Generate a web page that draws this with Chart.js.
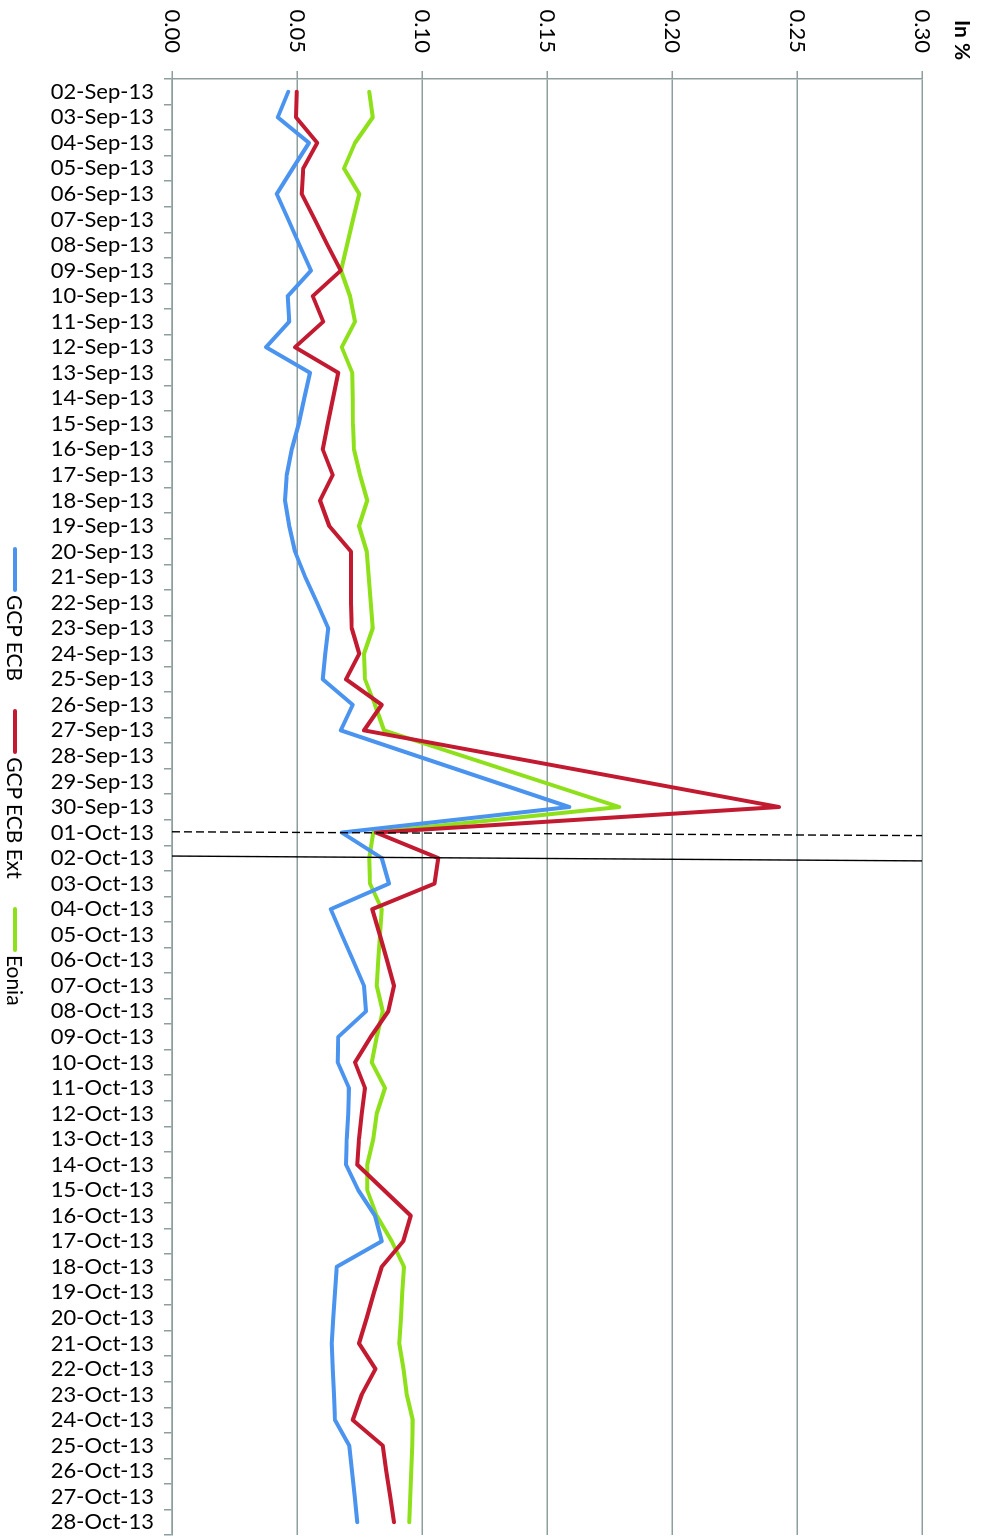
<!DOCTYPE html>
<html>
<head>
<meta charset="utf-8">
<script src="https://cdn.jsdelivr.net/npm/chart.js@4.4.1/dist/chart.umd.min.js"></script>
<style>
  html, body { margin: 0; padding: 0; background: #fff; overflow: hidden; }
  /* the chart is drawn landscape and turned a quarter clockwise */
  #wrap { position: absolute; left: 0; top: 0; width: 1537px; height: 981px;
          transform-origin: 0 0; transform: translate(981px, 0) rotate(90deg); }
  #chart { position: absolute; left: 0; top: 0; }
  #legend { position: absolute; left: 547px; top: 953px; display: flex; align-items: center;
            font-family: Lato, sans-serif; font-size: 21px; line-height: 26px; color: #000; white-space: nowrap; }
  .item { display: flex; align-items: center; margin-right: 28px; }
  .swatch { width: 45px; height: 4px; border-radius: 2px; margin-right: 3px; }
</style>
</head>
<body>
<div id="wrap">
  <canvas id="chart" width="1537" height="981"></canvas>
  <div id="legend"></div>
</div>
<script>
// Dates (x axis)
const dates = [
  '02-Sep-13', '03-Sep-13', '04-Sep-13', '05-Sep-13', '06-Sep-13', '07-Sep-13', '08-Sep-13',
  '09-Sep-13', '10-Sep-13', '11-Sep-13', '12-Sep-13', '13-Sep-13', '14-Sep-13', '15-Sep-13',
  '16-Sep-13', '17-Sep-13', '18-Sep-13', '19-Sep-13', '20-Sep-13', '21-Sep-13', '22-Sep-13',
  '23-Sep-13', '24-Sep-13', '25-Sep-13', '26-Sep-13', '27-Sep-13', '28-Sep-13', '29-Sep-13',
  '30-Sep-13', '01-Oct-13', '02-Oct-13', '03-Oct-13', '04-Oct-13', '05-Oct-13', '06-Oct-13',
  '07-Oct-13', '08-Oct-13', '09-Oct-13', '10-Oct-13', '11-Oct-13', '12-Oct-13', '13-Oct-13',
  '14-Oct-13', '15-Oct-13', '16-Oct-13', '17-Oct-13', '18-Oct-13', '19-Oct-13', '20-Oct-13',
  '21-Oct-13', '22-Oct-13', '23-Oct-13', '24-Oct-13', '25-Oct-13', '26-Oct-13', '27-Oct-13',
  '28-Oct-13'
];

// Rates in %
const gcpEcb = [
  0.0465, 0.0423, 0.0548, 0.0483, 0.0419, 0.0465, 0.0510,
  0.0556, 0.0463, 0.0469, 0.0376, 0.0552, 0.0529, 0.0507,
  0.0479, 0.0459, 0.0452, 0.0469, 0.0492, 0.0533, 0.0580,
  0.0625, 0.0613, 0.0603, 0.0723, 0.0675, 0.0979, 0.1284,
  0.1589, 0.0679, 0.0839, 0.0868, 0.0635, 0.0679, 0.0724,
  0.0768, 0.0776, 0.0665, 0.0663, 0.0708, 0.0705, 0.0699,
  0.0696, 0.0745, 0.0812, 0.0839, 0.0659, 0.0652, 0.0645,
  0.0639, 0.0643, 0.0648, 0.0652, 0.0709, 0.0720, 0.0731,
  0.0741
];
const gcpEcbExt = [
  0.0499, 0.0496, 0.0581, 0.0525, 0.0519, 0.0571, 0.0622,
  0.0675, 0.0563, 0.0605, 0.0492, 0.0665, 0.0644, 0.0623,
  0.0603, 0.0643, 0.0592, 0.0629, 0.0716, 0.0716, 0.0716,
  0.0719, 0.0749, 0.0696, 0.0839, 0.0768, 0.1321, 0.1875,
  0.2428, 0.0816, 0.1065, 0.1050, 0.0801, 0.0831, 0.0860,
  0.0888, 0.0865, 0.0795, 0.0732, 0.0772, 0.0759, 0.0748,
  0.0741, 0.0848, 0.0955, 0.0925, 0.0839, 0.0808, 0.0779,
  0.0748, 0.0814, 0.0759, 0.0723, 0.0843, 0.0857, 0.0873,
  0.0888
];
const eonia = [
  0.0789, 0.0803, 0.0732, 0.0688, 0.0749, 0.0724, 0.0700,
  0.0676, 0.0712, 0.0732, 0.0679, 0.0721, 0.0723, 0.0724,
  0.0728, 0.0752, 0.0781, 0.0748, 0.0779, 0.0787, 0.0795,
  0.0803, 0.0768, 0.0772, 0.0812, 0.0848, 0.1162, 0.1476,
  0.1789, 0.0805, 0.0789, 0.0792, 0.0839, 0.0832, 0.0825,
  0.0819, 0.0843, 0.0819, 0.0799, 0.0852, 0.0819, 0.0805,
  0.0781, 0.0781, 0.0819, 0.0879, 0.0928, 0.0921, 0.0916,
  0.0909, 0.0926, 0.0939, 0.0963, 0.0961, 0.0957, 0.0953,
  0.0949
];

// value axis
const yMin = 0;
const yMax = 0.30;
const yStep = 0.05;

// month-end separators (category index where they cross the bottom and top of the value axis)
const cutLines = [
  { from: 28.97, to: 29.12, dash: [8, 4] },
  { from: 29.92, to: 30.11, dash: [] }
];

const gridColor = '#8e9d9d';
const fontFamily = 'Lato, sans-serif';

const separators = {
  id: 'separators',
  afterDatasetsDraw(chart) {
    const { ctx, scales: { x, y } } = chart;
    ctx.save();
    ctx.strokeStyle = '#000';
    ctx.lineWidth = 1.4;
    cutLines.forEach(l => {
      ctx.setLineDash(l.dash);
      ctx.beginPath();
      ctx.moveTo(x.getPixelForValue(l.from), y.getPixelForValue(yMin));
      ctx.lineTo(x.getPixelForValue(l.to), y.getPixelForValue(yMax));
      ctx.stroke();
    });
    ctx.restore();
  }
};

const unitLabel = {
  id: 'unitLabel',
  afterDraw(chart) {
    const ctx = chart.ctx;
    ctx.save();
    ctx.font = 'bold 21px ' + fontFamily;
    ctx.fillStyle = '#000';
    ctx.textBaseline = 'alphabetic';
    ctx.fillText('In %', 20, 26);
    ctx.restore();
  }
};

const chart = new Chart(document.getElementById('chart'), {
  type: 'line',
  data: {
    labels: dates,
    datasets: [
      { label: 'GCP ECB', data: gcpEcb, borderColor: '#4a93ef' },
      { label: 'GCP ECB Ext', data: gcpEcbExt, borderColor: '#c21b31' },
      { label: 'Eonia', data: eonia, borderColor: '#8ee01b' }
    ]
  },
  options: {
    responsive: false,
    animation: false,
    layout: { padding: { top: 59, right: 2, left: 0, bottom: 0 } },
    elements: {
      line: { borderWidth: 4, tension: 0, fill: false, borderJoinStyle: 'round', borderCapStyle: 'round' },
      point: { radius: 0, hoverRadius: 0 }
    },
    plugins: {
      legend: { display: false },
      tooltip: { enabled: false }
    },
    scales: {
      x: {
        offset: true,
        // keep the plot running to the canvas edge, labels are narrow once rotated
        afterFit: s => { s.height = 172; s.paddingLeft = 0; s.paddingRight = 0; },
        grid: { drawOnChartArea: false, drawTicks: true, tickLength: 8, color: gridColor, lineWidth: 1.5, offset: true },
        border: { display: true, color: gridColor, width: 1.5 },
        ticks: { autoSkip: false, minRotation: 90, maxRotation: 90, padding: 10, color: '#000', font: { family: fontFamily, size: 22 } }
      },
      y: {
        min: yMin,
        max: yMax,
        afterFit: s => { s.width = 79; },
        grid: { color: gridColor, lineWidth: 1.5, tickLength: 8 },
        border: { display: true, color: gridColor, width: 1.5 },
        ticks: { stepSize: yStep, padding: 18, color: '#000', font: { family: fontFamily, size: 22 },
                 callback: v => v.toFixed(2) }
      }
    }
  },
  plugins: [separators, unitLabel]
});

// legend built from the datasets
const legend = document.getElementById('legend');
chart.data.datasets.forEach(ds => {
  const item = document.createElement('div');
  item.className = 'item';
  const sw = document.createElement('span');
  sw.className = 'swatch';
  sw.style.background = ds.borderColor;
  const txt = document.createElement('span');
  txt.textContent = ds.label;
  item.appendChild(sw);
  item.appendChild(txt);
  legend.appendChild(item);
});
</script>
</body>
</html>
